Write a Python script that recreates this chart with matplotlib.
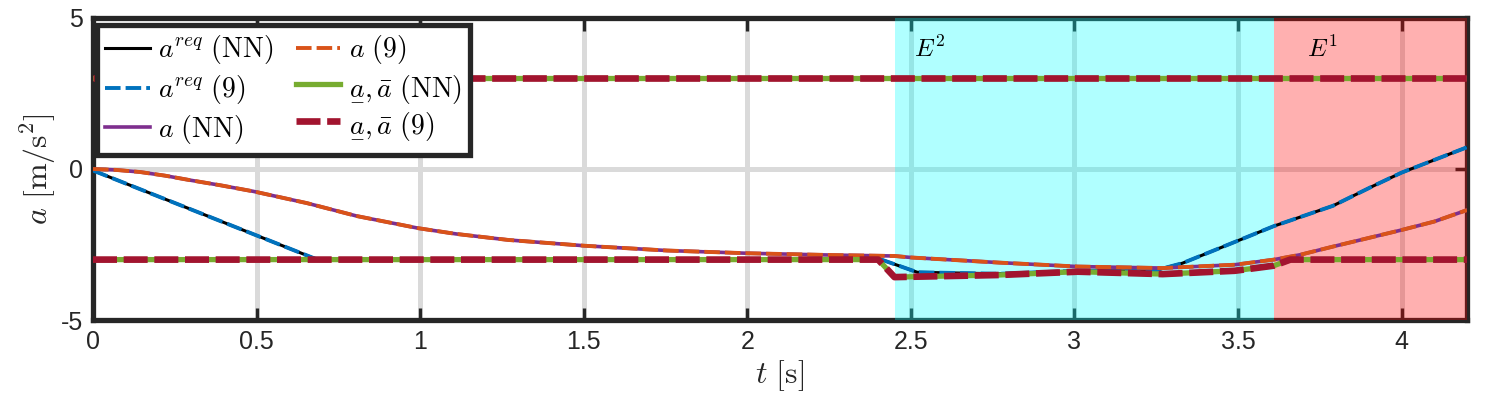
import matplotlib
matplotlib.use('Agg')
import matplotlib.pyplot as plt

plt.rcParams['font.family'] = ['Liberation Sans', 'DejaVu Sans']
plt.rcParams['mathtext.fontset'] = 'cm'

# requested acceleration (NN and eq. 9 give the same trace)
t_req = [0, 0.686, 2.41, 2.52, 2.77, 3.01, 3.24, 3.33, 3.61, 3.79, 3.91, 4.0, 4.2]
a_req = [-0.05, -3.0, -3.0, -3.42, -3.47, -3.37, -3.38, -3.12, -1.89, -1.22, -0.58, -0.12, 0.72]

# actual acceleration
t_act = [0, 0.07, 0.144, 0.22, 0.297, 0.39, 0.49, 0.654, 0.807, 0.994, 1.11, 1.27, 1.50, 1.755,
         2.0, 2.26, 2.45, 2.50, 2.77, 3.01, 3.27, 3.49, 3.61, 3.69, 3.79, 4.0, 4.1, 4.2]
a_act = [0, -0.03, -0.1, -0.22, -0.37, -0.54, -0.74, -1.13, -1.56, -1.96, -2.15, -2.35, -2.54,
         -2.70, -2.79, -2.85, -2.88, -2.93, -3.10, -3.23, -3.28, -3.17, -3.00, -2.84, -2.57,
         -2.02, -1.74, -1.36]

# acceleration bounds
t_bnd = [0, 2.40, 2.45, 2.77, 3.01, 3.27, 3.49, 3.61, 3.66, 4.2]
a_low = [-3, -3, -3.58, -3.51, -3.40, -3.48, -3.37, -3.2, -3.0, -3.0]
a_up = [3, 3, 3, 3, 3, 3, 3, 3, 3, 3]

regions = [(2.45, 3.61, 'cyan', '$E^2$'), (3.61, 4.2, 'red', '$E^1$')]

labels = [r'$a^{req}\ \mathrm{(NN)}$', r'$a^{req}\ \mathrm{(9)}$', r'$a\ \mathrm{(NN)}$',
          r'$a\ \mathrm{(9)}$', r'$\underline{a},\bar{a}\ \mathrm{(NN)}$',
          r'$\underline{a},\bar{a}\ \mathrm{(9)}$']
fallback = [r'$\underset{-}{a},\bar{a}\ \mathrm{(NN)}$', r'$\underset{-}{a},\bar{a}\ \mathrm{(9)}$']

blue, orange, purple, green, red = '#0072BD', '#D95319', '#7E2F8E', '#77AC30', '#A2142F'
dark = '#262626'


def make(lbl):
    fig = plt.figure(figsize=(14.95, 4.15), dpi=100)
    ax = fig.add_axes([93 / 1495, 95 / 415, 1374 / 1495, 302 / 415])
    ax.set_axisbelow(True)

    h1, = ax.plot(t_req, a_req, color='black', lw=2.2, zorder=3)
    h2, = ax.plot(t_req, a_req, color=blue, lw=2.8, dashes=(4, 1.3), zorder=3.1)
    h3, = ax.plot(t_act, a_act, color=purple, lw=2.6, zorder=3.2)
    h4, = ax.plot(t_act, a_act, color=orange, lw=2.8, dashes=(4, 1.3), zorder=3.3)
    h5, = ax.plot(t_bnd, a_low, color=green, lw=3.8, zorder=3.4)
    ax.plot(t_bnd, a_up, color=green, lw=3.8, zorder=3.4)
    h6, = ax.plot(t_bnd, a_low, color=red, lw=4.8, dashes=(3.6, 1.0), zorder=3.5)
    ax.plot(t_bnd, a_up, color=red, lw=4.8, dashes=(3.6, 1.0), zorder=3.5)

    for x0, x1, c, name in regions:
        ax.axvspan(x0, x1, color=c, alpha=0.31, lw=0, zorder=2)
        ax.text(x0 + 0.06 if c == 'cyan' else x0 + 0.1, 3.72, name, fontsize=18, zorder=4)

    ax.set_xlim(0, 4.2)
    ax.set_ylim(-5, 5)
    ax.set_xticks([0, 0.5, 1, 1.5, 2, 2.5, 3, 3.5, 4])
    ax.set_xticklabels(['0', '0.5', '1', '1.5', '2', '2.5', '3', '3.5', '4'])
    ax.set_yticks([-5, 0, 5])
    ax.set_yticklabels(['-5', '0', '5'])
    ax.tick_params(direction='in', length=9, width=2.4, color=dark, labelsize=18,
                   labelcolor=dark, top=True, right=True, pad=7)
    ax.grid(True, color='#dadada', lw=3.6)
    for s in ax.spines.values():
        s.set_linewidth(3.8)
        s.set_color(dark)
        s.set_zorder(1)

    ax.set_xlabel(r'$t\ [\mathrm{s}]$', fontsize=23, color=dark, labelpad=3)
    ax.set_ylabel(r'$a\ [\mathrm{m}/\mathrm{s}^2]$', fontsize=23, color=dark, labelpad=2)

    leg = ax.legend([h1, h2, h3, h4, h5, h6], lbl, ncol=2, loc='upper left',
                    bbox_to_anchor=(0.003, 0.977), borderaxespad=0, fontsize=20,
                    fancybox=False, framealpha=1, edgecolor=dark, handlelength=1.6,
                    handletextpad=0.3, columnspacing=0.8, labelspacing=0.25,
                    borderpad=0.3)
    leg.get_frame().set_linewidth(3.8)
    leg.set_zorder(6)
    return fig


fig = make(labels)
try:
    fig.savefig('out.png', dpi=100)
except Exception:
    plt.close(fig)
    fig = make(labels[:4] + fallback)
    fig.savefig('out.png', dpi=100)
